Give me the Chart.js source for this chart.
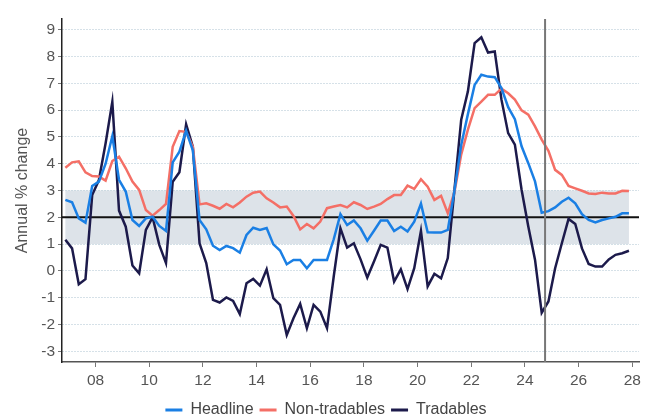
<!DOCTYPE html>
<html>
<head>
<meta charset="utf-8">
<script src="https://cdn.jsdelivr.net/npm/chart.js@4"></script>
<style>
  html, body { margin: 0; padding: 0; background: #fff; }
</style>
</head>
<body>
<canvas id="cpiChart" width="654" height="420"></canvas>
<script>
// Quarterly data, Dec 2006 quarter to Dec 2027 quarter (projection from Sep 2024)
const firstQuarter = 2006.875;

const headline = [
  2.65, 2.56, 1.96, 1.80, 3.17, 3.33, 4.00, 5.03, 3.40, 2.96,
  1.90, 1.68, 1.96, 2.02, 1.68, 1.49, 4.05, 4.45, 5.23, 4.50,
  1.90, 1.55, 0.94, 0.78, 0.93, 0.85, 0.68, 1.34, 1.61, 1.53,
  1.60, 0.99, 0.76, 0.25, 0.41, 0.41, 0.10, 0.41, 0.41, 0.41,
  1.18, 2.12, 1.71, 1.88, 1.59, 1.13, 1.50, 1.88, 1.88, 1.49,
  1.65, 1.47, 1.84, 2.51, 1.44, 1.43, 1.43, 1.53, 3.00, 4.70,
  5.85, 6.94, 7.32, 7.25, 7.23, 6.82, 6.11, 5.66, 4.65, 4.02,
  3.34, 2.17, 2.23, 2.37, 2.58, 2.73, 2.52, 2.12, 1.90, 1.81,
  1.90, 1.96, 2.02, 2.15, 2.15
];

const nonTradables = [
  3.85, 4.05, 4.09, 3.68, 3.54, 3.52, 3.37, 4.10, 4.26, 3.83,
  3.33, 3.02, 2.27, 2.06, 2.27, 2.50, 4.63, 5.22, 5.19, 4.63,
  2.48, 2.52, 2.43, 2.32, 2.50, 2.37, 2.55, 2.77, 2.92, 2.96,
  2.71, 2.55, 2.37, 2.40, 2.05, 1.55, 1.75, 1.59, 1.84, 2.34,
  2.40, 2.46, 2.37, 2.56, 2.46, 2.31, 2.40, 2.50, 2.68, 2.83,
  2.83, 3.18, 3.06, 3.42, 3.14, 2.65, 2.80, 2.15, 2.95, 4.34,
  5.27, 6.07, 6.32, 6.57, 6.57, 6.80, 6.63, 6.39, 5.99, 5.83,
  5.39, 4.90, 4.48, 3.77, 3.58, 3.17, 3.08, 2.99, 2.89, 2.87,
  2.92, 2.89, 2.89, 2.99, 2.98
];

const tradables = [
  1.16, 0.84, -0.50, -0.31, 2.83, 3.39, 4.76, 6.31, 2.25, 1.65,
  0.20, -0.09, 1.53, 2.00, 0.97, 0.29, 3.33, 3.68, 5.47, 4.63,
  1.03, 0.29, -1.08, -1.18, -0.99, -1.12, -1.61, -0.46, -0.30, -0.55,
  0.06, -1.02, -1.27, -2.39, -1.77, -1.23, -2.14, -1.27, -1.52, -2.14,
  -0.21, 1.59, 0.87, 1.03, 0.43, -0.25, 0.35, 0.97, 0.87, -0.40,
  0.06, -0.68, 0.10, 1.49, -0.58, -0.11, -0.28, 0.48, 3.05, 5.64,
  6.70, 8.50, 8.72, 8.15, 8.19, 6.39, 5.14, 4.71, 3.03, 1.66,
  0.42, -1.56, -1.14, 0.10, 1.03, 1.94, 1.75, 0.84, 0.26, 0.16,
  0.16, 0.43, 0.60, 0.66, 0.75
];

const xTickYears = [2008, 2010, 2012, 2014, 2016, 2018, 2020, 2022, 2024, 2026, 2028];
const yTicks = [-3, -2, -1, 0, 1, 2, 3, 4, 5, 6, 7, 8, 9];
const targetBand = [1, 3];
const targetMid = 2;
const projectionStart = 2024.75;

const quarterX = headline.map((_, i) => firstQuarter + i * 0.25);
const toPoints = arr => arr.map((v, i) => ({ x: quarterX[i], y: v }));

const FONT = '"Liberation Sans", Arial, sans-serif';

// target band, midpoint line and projection marker
const referenceLines = {
  id: 'referenceLines',
  beforeDraw(chart) {
    const { ctx, scales: { x, y } } = chart;
    const x0 = x.getPixelForValue(quarterX[0]);
    const x1 = x.getPixelForValue(quarterX[quarterX.length - 1]);
    const yTop = y.getPixelForValue(targetBand[1]);
    const yBot = y.getPixelForValue(targetBand[0]);
    ctx.save();
    ctx.fillStyle = '#dde3e9';
    ctx.fillRect(x0, yTop, x1 - x0, yBot - yTop);
    ctx.restore();
  },
  beforeDatasetsDraw(chart) {
    const { ctx, chartArea: a, scales: { y } } = chart;
    const ym = y.getPixelForValue(targetMid);
    ctx.save();
    ctx.strokeStyle = '#111';
    ctx.lineWidth = 2;
    ctx.beginPath();
    ctx.moveTo(a.left, ym);
    ctx.lineTo(a.right, ym);
    ctx.stroke();
    ctx.restore();
  },
  afterDatasetsDraw(chart) {
    const { ctx, chartArea: a, scales: { x } } = chart;
    const xp = x.getPixelForValue(projectionStart);
    ctx.save();
    ctx.strokeStyle = '#777';
    ctx.lineWidth = 2;
    ctx.beginPath();
    ctx.moveTo(xp, a.top);
    ctx.lineTo(xp, a.bottom);
    ctx.stroke();
    ctx.restore();
  }
};

const lineStyle = color => ({
  borderColor: color,
  backgroundColor: color,
  borderWidth: 2.5,
  pointRadius: 0,
  tension: 0,
  fill: false
});

const ctx = document.getElementById('cpiChart').getContext('2d');

new Chart(ctx, {
  type: 'line',
  data: {
    datasets: [
      { label: 'Headline', data: toPoints(headline), ...lineStyle('#1a7fe4') },
      { label: 'Non-tradables', data: toPoints(nonTradables), ...lineStyle('#f46f66') },
      { label: 'Tradables', data: toPoints(tradables), ...lineStyle('#1c1a4b') }
    ]
  },
  options: {
    responsive: false,
    animation: false,
    layout: { padding: { left: 13, right: 15, top: 19, bottom: -8 } },
    scales: {
      x: {
        type: 'linear',
        min: 2006.75,
        max: 2028.25,
        afterBuildTicks: scale => { scale.ticks = xTickYears.map(v => ({ value: v })); },
        afterFit: scale => { scale.height = 34; },
        ticks: {
          callback: v => String(v % 100).padStart(2, '0'),
          color: '#555',
          font: { family: FONT, size: 15.5 },
          padding: 4,
          maxRotation: 0
        },
        grid: { drawOnChartArea: false, drawTicks: true, tickLength: 5, tickColor: '#777', tickWidth: 1 },
        border: { display: true, color: '#555', width: 1.5 }
      },
      y: {
        min: -3.4,
        max: 9.4,
        afterBuildTicks: scale => { scale.ticks = yTicks.map(v => ({ value: v })); },
        afterFit: scale => { scale.width = 49; },
        ticks: {
          color: '#555',
          font: { family: FONT, size: 15.5 },
          padding: 3
        },
        title: {
          display: true,
          text: 'Annual % change',
          color: '#555',
          font: { family: FONT, size: 16 },
          padding: 0
        },
        grid: {
          color: '#adc2d1',
          lineWidth: 1,
          tickLength: 4,
          tickColor: '#777',
          tickWidth: 1,
          tickBorderDash: []
        },
        border: { display: true, color: '#222', width: 1.5, dash: [1, 2] }
      }
    },
    plugins: {
      legend: {
        position: 'bottom',
        labels: {
          color: '#444',
          font: { family: FONT, size: 16 },
          boxWidth: 17,
          boxHeight: 3,
          padding: 6,
          generateLabels: chart => Chart.defaults.plugins.legend.labels.generateLabels(chart)
            .map(l => ({ ...l, lineWidth: 0 }))
        }
      },
      tooltip: { enabled: false }
    }
  },
  plugins: [referenceLines]
});
</script>
</body>
</html>
